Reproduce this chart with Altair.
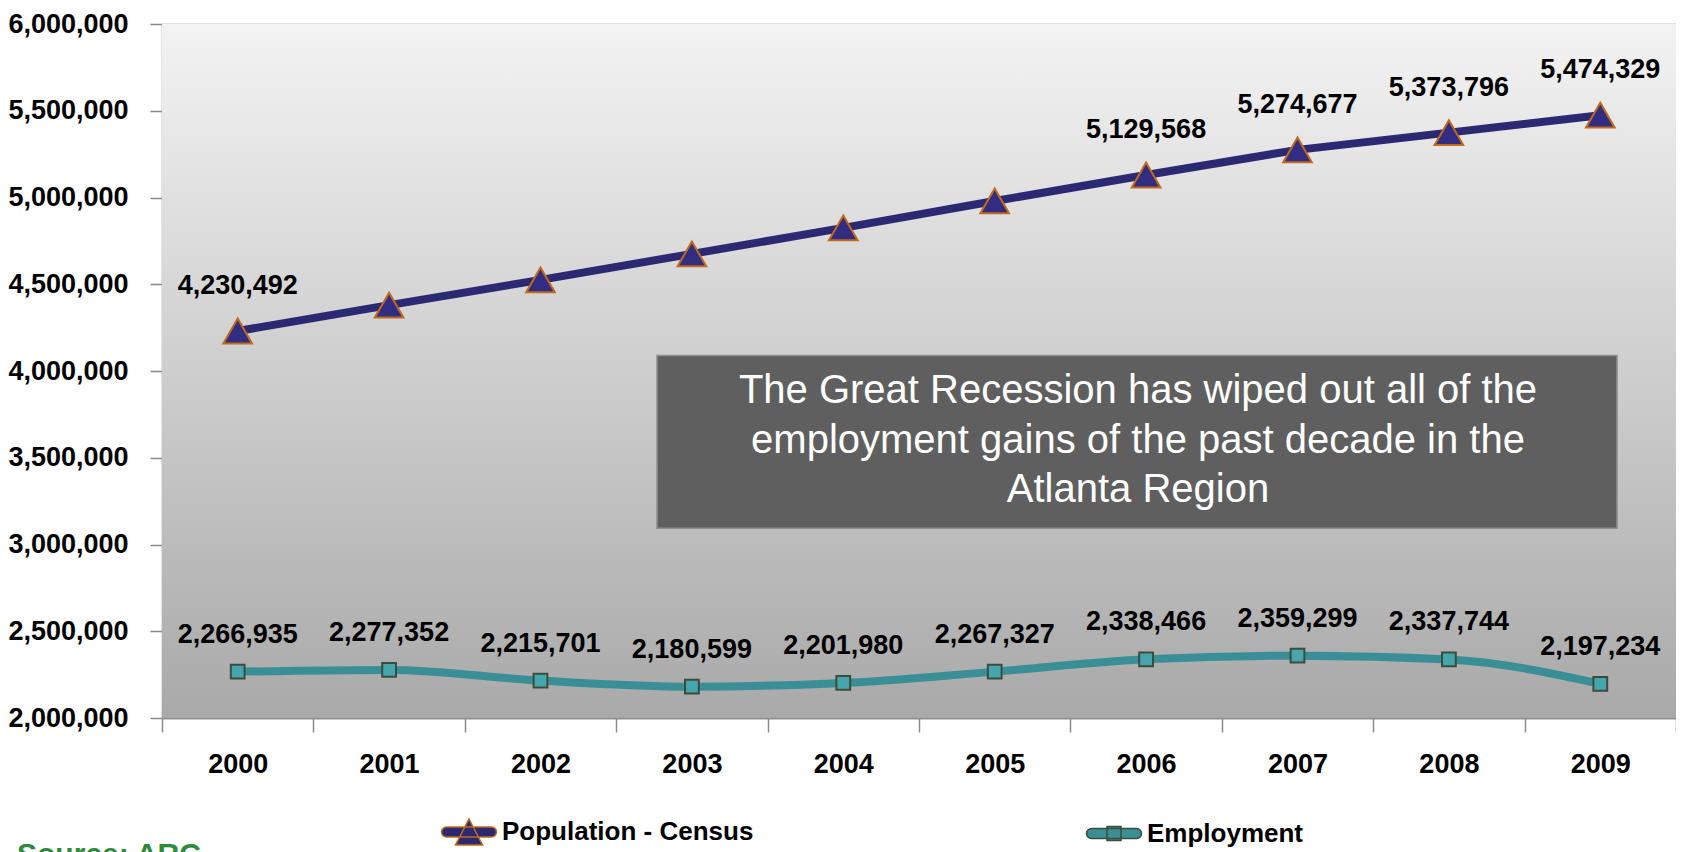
import altair as alt
import pandas as pd

# ---------------- data ----------------
years = ["2000", "2001", "2002", "2003", "2004", "2005", "2006", "2007", "2008", "2009"]
population = [4230492, 4380000, 4525000, 4675000, 4825000, 4980000, 5129568, 5274677, 5373796, 5474329]
population_labels = ["4,230,492", "", "", "", "", "", "5,129,568", "5,274,677", "5,373,796", "5,474,329"]
employment = [2266935, 2277352, 2215701, 2180599, 2201980, 2267327, 2338466, 2359299, 2337744, 2197234]
employment_labels = ["2,266,935", "2,277,352", "2,215,701", "2,180,599", "2,201,980",
                     "2,267,327", "2,338,466", "2,359,299", "2,337,744", "2,197,234"]
series_names = ["Population - Census", "Employment"]
y_ticks = [2000000, 2500000, 3000000, 3500000, 4000000, 4500000, 5000000, 5500000, 6000000]
note_lines = ["The Great Recession has wiped out all of the",
              "employment  gains of the past decade in the",
              "Atlanta  Region"]
note_box_top = [4090000]
note_box_bottom = [3093000]
note_text_y = [3815000]
source_text = ["Source: ARC"]

# ---------------- styling ----------------
W, H = 1514, 694
FONT = "Liberation Sans, Arial, sans-serif"
FS = 27
NAVY = "#2b2972"
NAVY_FILL = "#302d82"
ORANGE = "#c06a1a"
TEAL = "#3a8f96"
TEAL_FILL = "#46a6ae"
DARK = "#3c4c3c"
GRID = "#8a8a8a"
Y_DOMAIN = [2000000, 6000000]

rows = []
for i, yr in enumerate(years):
    rows.append({"year": yr, "value": population[i], "series": series_names[0], "label": population_labels[i]})
    rows.append({"year": yr, "value": employment[i], "series": series_names[1], "label": employment_labels[i]})
df = pd.DataFrame(rows)

x_enc = alt.X(
    "year:O",
    scale=alt.Scale(type="band", domain=years, paddingInner=0, paddingOuter=0),
    axis=alt.Axis(
        title=None, labelAngle=0, tickBand="extent", tickSize=14, tickColor=GRID, tickWidth=1.5,
        domainColor=GRID, domainWidth=1.5, grid=False,
        labelFont=FONT, labelFontSize=FS, labelFontWeight="bold", labelColor="black", labelPadding=19,
    ),
)
y_enc = alt.Y(
    "value:Q",
    scale=alt.Scale(domain=Y_DOMAIN, nice=False, zero=False),
    axis=alt.Axis(
        title=None, values=y_ticks, format=",d", tickSize=12, tickColor=GRID, tickWidth=1.5,
        domainColor=GRID, domainWidth=1.5, grid=True, gridColor=GRID, gridWidth=1.5,
        labelFont=FONT, labelFontSize=FS, labelFontWeight="bold", labelColor="black", labelPadding=22,
        labelLimit=200,
    ),
)

base = alt.Chart(df).encode(x=x_enc, y=y_enc)
pop = base.transform_filter(alt.datum.series == series_names[0])
emp = base.transform_filter(alt.datum.series == series_names[1])

# plot-area background gradient
bg = alt.Chart(pd.DataFrame({"k": [0]})).mark_rect(
    color=alt.LinearGradient(
        gradient="linear",
        stops=[alt.GradientStop(color="#f3f3f3", offset=0), alt.GradientStop(color="#a9a9a9", offset=1)],
        x1=0, x2=0, y1=0, y2=1,
    )
).encode(x=alt.value(0), x2=alt.value(W), y=alt.value(0), y2=alt.value(H))

# annotation box
box_df = pd.DataFrame({"top": note_box_top, "bottom": note_box_bottom})
box = alt.Chart(box_df).mark_rect(color="#5f5f5f", stroke="#8f8f8f", strokeWidth=1.5).encode(
    x=alt.value(495), x2=alt.value(1455),
    y=alt.Y("top:Q", scale=alt.Scale(domain=Y_DOMAIN, nice=False, zero=False)),
    y2="bottom:Q",
)
note_df = pd.DataFrame({"ty": note_text_y})
note = alt.Chart(note_df).mark_text(
    text=note_lines, font=FONT, fontSize=40, color="white",
    align="center", baseline="alphabetic", lineHeight=49.5,
).encode(x=alt.value(976), y=alt.Y("ty:Q"))

pop_line = pop.mark_line(color=NAVY, strokeWidth=8)
emp_line = emp.mark_line(color=TEAL, strokeWidth=8, interpolate="monotone")

pop_pts = pop.mark_point(shape="triangle-up", filled=True, size=820, fill=NAVY_FILL,
                         stroke=ORANGE, strokeWidth=2, opacity=1)
emp_pts = emp.mark_point(shape="square", filled=True, size=190, fill=TEAL_FILL,
                         stroke=DARK, strokeWidth=2, opacity=1)

pop_lbl = pop.mark_text(dy=-45, font=FONT, fontSize=FS, fontWeight="bold", color="black").encode(text="label:N")
emp_lbl = emp.mark_text(dy=-37, font=FONT, fontSize=FS, fontWeight="bold", color="black").encode(text="label:N")

# legend layer (no marks drawn, only the legend)
path_pop = ("M-2.25,-0.5 L2.25,-0.5 A0.5,0.5 0 0 1 2.25,0.5 L-2.25,0.5 A0.5,0.5 0 0 1 -2.25,-0.5 Z "
            "M0,-1.3 L1.35,1.3 L-1.35,1.3 Z")
path_emp = ("M-2.25,-0.5 L2.25,-0.5 A0.5,0.5 0 0 1 2.25,0.5 L-2.25,0.5 A0.5,0.5 0 0 1 -2.25,-0.5 Z "
            "M-0.7,-0.7 L0.7,-0.7 L0.7,0.7 L-0.7,0.7 Z")
leg = alt.Legend(
    title=None, orient="none", legendX=294, legendY=795, direction="horizontal",
    labelFont=FONT, labelFontSize=26, labelFontWeight="bold", labelColor="black", labelLimit=400,
    labelOffset=20, columnPadding=329, symbolSize=400, padding=0, symbolStrokeWidth=1.5,
)
legend_layer = alt.Chart(df).transform_filter("false").mark_point(filled=True, opacity=1).encode(
    x=alt.X("year:O"), y=alt.Y("value:Q"),
    color=alt.Color("series:N", scale=alt.Scale(domain=series_names, range=[NAVY, TEAL]), legend=leg),
    shape=alt.Shape("series:N", scale=alt.Scale(domain=series_names, range=[path_pop, path_emp]), legend=leg),
    stroke=alt.Stroke("series:N", scale=alt.Scale(domain=series_names, range=[ORANGE, DARK]), legend=leg),
)

src_df = pd.DataFrame({"t": source_text})
src = alt.Chart(src_df).mark_text(
    font=FONT, fontSize=30, fontWeight="bold", color="#2e8b3e",
    align="left", baseline="top",
).encode(text="t:N", x=alt.value(-145), y=alt.value(816))

chart = alt.layer(
    bg, box, note, pop_line, emp_line, pop_pts, emp_pts, pop_lbl, emp_lbl, legend_layer, src
).properties(
    width=W, height=H,
    autosize=alt.AutoSizeParams(type="none"),
    padding={"left": 154, "top": 16, "right": 0, "bottom": 134},
).configure_view(stroke="transparent")

chart.save("out.html", embed_options={"renderer": "svg", "actions": False})
